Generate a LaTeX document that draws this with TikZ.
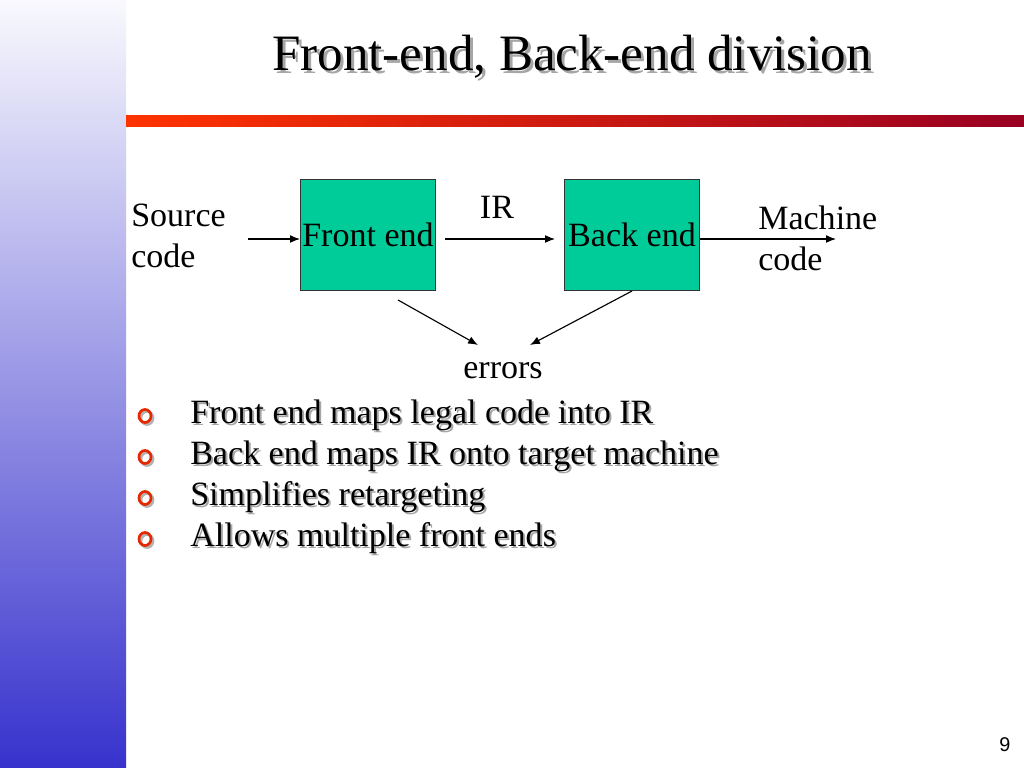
\documentclass[tikz,border=0pt]{standalone}
\usepackage{fontspec}
\setmainfont{Liberation Serif}
\setsansfont{Liberation Sans}
\usetikzlibrary{positioning,arrows.meta}

\definecolor{boxgreen}{RGB}{0,204,153}
\definecolor{barblue}{RGB}{55,50,205}
\definecolor{barmid}{RGB}{180,180,232}
\definecolor{rulered}{RGB}{255,51,0}
\definecolor{ruledark}{RGB}{153,0,34}
\definecolor{bulletred}{RGB}{230,40,0}

\tikzset{
  stage/.style={draw=black!80, fill=boxgreen, minimum width=95.6pt, minimum height=78pt, inner sep=0pt, font=\fontsize{24}{26}\selectfont},
  lbl/.style={inner sep=0pt, font=\fontsize{24}{29}\selectfont},
  item/.style={anchor=west, inner sep=0pt, font=\fontsize{24}{26}\selectfont},
  shadowtxt/.style={text=black!35},
  flow/.style={-{Latex[length=7pt,width=5.5pt]}, line width=0.8pt}
}

\begin{document}
\begin{tikzpicture}[x=0.0248cm,y=-0.0248cm]
\useasboundingbox (0,0) rectangle (1024,768);
\fill[white] (0,0) rectangle (1024,768);
\shade[top color=white!97!barblue, middle color=barmid, bottom color=barblue] (0,0) rectangle (126,768);
\shade[left color=rulered, right color=ruledark] (126,116) rectangle (1024,127);

% title, with its shadow
\node[lbl, shadowtxt, font=\fontsize{36}{40}\selectfont] (titleshadow) at (575,60) {Front-end, Back-end division};
\node[lbl, font=\fontsize{36}{40}\selectfont] (title) at (572,57) {Front-end, Back-end division};

\node[stage] (front) at (368,235) {Front end};
\node[stage] (back)  at (632,235) {Back end};

\node[lbl, align=left, anchor=west] (src)  at (131,236) {Source\\code};
\node[lbl, align=left, anchor=west] (mach) at (758,238) {Machine\\code};
\node[lbl] (ir)  at (497,207) {IR};
\node[lbl] (err) at (503,371) {errors};

\coordinate (srcend) at (248,239);
\coordinate (frontin) at (300,239);
\coordinate (frontout) at (445,239);
\coordinate (backin) at (555,239);
\coordinate (machend) at (836,239);
\coordinate (frontbot) at (398,300);
\coordinate (backbot) at (632,291);
\coordinate (errl) at (478,345);
\coordinate (errr) at (530,345);

\draw[flow] (srcend) -- (frontin);
\draw[flow] (frontout) -- (backin);
\draw[flow] (back.east |- machend) -- (machend);
\draw[flow] (frontbot) -- (errl);
\draw[flow] (backbot) -- (errr);

% bullet list
\foreach \txt [count=\i, evaluate=\i as \yy using 374+41*\i] in {Front end maps legal code into IR, Back end maps IR onto target machine, Simplifies retargeting, Allows multiple front ends}{
  \draw[black!30, line width=1.9pt] (147,\yy+3) ellipse (6 and 6.5);
  \draw[bulletred, line width=1.9pt] (145,\yy+1) ellipse (6 and 6.5);
  \node[item, shadowtxt] (itemshadow\i) at (192,\yy+2) {\txt};
  \node[item] (item\i) at (190,\yy) {\txt};
}

\node[lbl, font=\sffamily\fontsize{14}{16}\selectfont] (pagenum) at (1005,745) {9};
\end{tikzpicture}
\end{document}
